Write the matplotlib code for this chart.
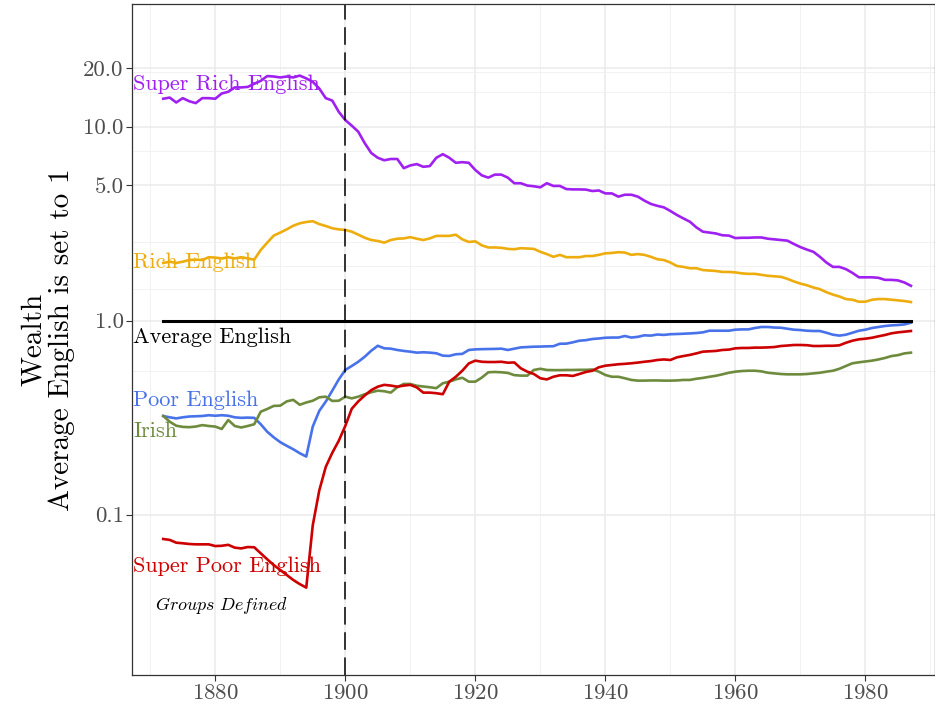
import numpy as np
import matplotlib
matplotlib.use("Agg")
import matplotlib.pyplot as plt
from matplotlib.ticker import FixedLocator, NullFormatter

plt.rcParams['font.family'] = 'cmr10'
plt.rcParams['mathtext.fontset'] = 'cm'
plt.rcParams['axes.formatter.use_mathtext'] = True

years = np.arange(1872, 1988)

super_rich = [13.9, 14.1, 13.3, 14.0, 13.5, 13.2, 14.0, 14.0,
              13.9, 14.8, 15.1, 15.9, 15.9, 16.0, 16.6, 17.2, 18.2, 18.1,
              17.9, 18.1, 17.9, 18.3, 17.7, 17.0, 15.7, 14.0, 13.6, 11.9,
              10.8, 10.1, 9.4, 8.2, 7.3, 6.9, 6.7, 6.8, 6.8, 6.1,
              6.3, 6.4, 6.2, 6.25, 6.9, 7.2, 6.9, 6.5, 6.55, 6.5,
              5.97, 5.6, 5.45, 5.65, 5.65, 5.45, 5.1, 5.1, 4.96, 4.92,
              4.86, 5.1, 4.94, 4.94, 4.76, 4.74, 4.74, 4.73, 4.65, 4.68,
              4.52, 4.52, 4.35, 4.45, 4.45, 4.35, 4.15, 3.99, 3.90, 3.83,
              3.67, 3.50, 3.36, 3.23, 3.02, 2.87, 2.84, 2.81, 2.75, 2.74,
              2.66, 2.67, 2.67, 2.68, 2.68, 2.64, 2.62, 2.60, 2.58, 2.48,
              2.39, 2.32, 2.26, 2.13, 1.99, 1.89, 1.89, 1.84, 1.76, 1.67,
              1.67, 1.67, 1.66, 1.62, 1.62, 1.61, 1.57, 1.51]

rich = [1.98, 2.01, 1.98, 2.01, 2.05, 2.06, 2.05, 2.12,
        2.11, 2.09, 2.12, 2.09, 2.12, 2.09, 2.06, 2.31, 2.52, 2.74,
        2.84, 2.95, 3.08, 3.17, 3.22, 3.25, 3.14, 3.07, 2.99, 2.95,
        2.93, 2.87, 2.77, 2.67, 2.60, 2.57, 2.52, 2.60, 2.64, 2.65,
        2.69, 2.64, 2.60, 2.65, 2.73, 2.73, 2.73, 2.77, 2.62, 2.54,
        2.56, 2.44, 2.38, 2.38, 2.37, 2.34, 2.33, 2.36, 2.35, 2.34,
        2.26, 2.20, 2.13, 2.18, 2.12, 2.12, 2.12, 2.15, 2.15, 2.18,
        2.22, 2.23, 2.25, 2.24, 2.18, 2.20, 2.18, 2.13, 2.07, 2.05,
        1.99, 1.91, 1.89, 1.86, 1.86, 1.82, 1.81, 1.80, 1.78, 1.78,
        1.77, 1.75, 1.74, 1.74, 1.72, 1.70, 1.69, 1.68, 1.64, 1.59,
        1.55, 1.52, 1.48, 1.45, 1.40, 1.36, 1.33, 1.29, 1.28, 1.25,
        1.25, 1.28, 1.29, 1.29, 1.28, 1.27, 1.26, 1.245]

poor = [0.322, 0.317, 0.313, 0.317, 0.320, 0.321, 0.322, 0.325,
        0.323, 0.325, 0.323, 0.317, 0.315, 0.316, 0.315, 0.292, 0.267, 0.250,
        0.236, 0.226, 0.217, 0.207, 0.199, 0.284, 0.342, 0.382, 0.435, 0.497,
        0.556, 0.583, 0.613, 0.651, 0.699, 0.741, 0.719, 0.716, 0.705, 0.697,
        0.691, 0.683, 0.686, 0.683, 0.678, 0.659, 0.657, 0.670, 0.673, 0.705,
        0.710, 0.712, 0.713, 0.714, 0.716, 0.705, 0.716, 0.727, 0.730, 0.733,
        0.734, 0.736, 0.737, 0.759, 0.760, 0.772, 0.787, 0.792, 0.803, 0.808,
        0.815, 0.817, 0.817, 0.832, 0.817, 0.824, 0.839, 0.836, 0.847, 0.843,
        0.850, 0.852, 0.855, 0.858, 0.862, 0.869, 0.886, 0.886, 0.886, 0.886,
        0.897, 0.900, 0.900, 0.915, 0.926, 0.926, 0.920, 0.918, 0.907, 0.897,
        0.893, 0.886, 0.883, 0.883, 0.865, 0.845, 0.836, 0.845, 0.865, 0.886,
        0.897, 0.915, 0.926, 0.937, 0.944, 0.948, 0.955, 0.974]

irish = [0.322, 0.301, 0.287, 0.283, 0.282, 0.284, 0.289, 0.286,
         0.284, 0.276, 0.307, 0.286, 0.281, 0.286, 0.292, 0.339, 0.350, 0.363,
         0.364, 0.383, 0.390, 0.368, 0.378, 0.386, 0.402, 0.405, 0.385, 0.386,
         0.405, 0.397, 0.405, 0.417, 0.427, 0.435, 0.432, 0.425, 0.453, 0.471,
         0.471, 0.461, 0.457, 0.453, 0.448, 0.475, 0.484, 0.497, 0.507, 0.484,
         0.484, 0.508, 0.541, 0.543, 0.541, 0.537, 0.523, 0.520, 0.520, 0.556,
         0.564, 0.556, 0.555, 0.555, 0.556, 0.556, 0.557, 0.557, 0.559, 0.545,
         0.524, 0.513, 0.513, 0.504, 0.494, 0.490, 0.490, 0.491, 0.491, 0.490,
         0.490, 0.491, 0.494, 0.494, 0.501, 0.506, 0.513, 0.519, 0.528, 0.538,
         0.545, 0.549, 0.551, 0.551, 0.547, 0.538, 0.534, 0.530, 0.528, 0.528,
         0.528, 0.530, 0.534, 0.538, 0.545, 0.551, 0.564, 0.583, 0.602, 0.609,
         0.615, 0.621, 0.630, 0.641, 0.656, 0.663, 0.677, 0.683]

super_poor = [0.0748, 0.0740, 0.0716, 0.0711, 0.0705, 0.0702, 0.0702, 0.0702,
              0.0688, 0.0690, 0.0698, 0.0675, 0.0669, 0.0680, 0.0678, 0.0631, 0.0588, 0.0549,
              0.0518, 0.0488, 0.0460, 0.0438, 0.0420, 0.0880, 0.1330, 0.176, 0.208, 0.240,
              0.286, 0.351, 0.383, 0.411, 0.438, 0.456, 0.466, 0.462, 0.456, 0.462,
              0.466, 0.452, 0.425, 0.425, 0.422, 0.417, 0.484, 0.513, 0.551, 0.601,
              0.621, 0.613, 0.611, 0.611, 0.613, 0.606, 0.608, 0.567, 0.545, 0.530,
              0.504, 0.497, 0.513, 0.522, 0.522, 0.518, 0.530, 0.543, 0.551, 0.574,
              0.585, 0.590, 0.595, 0.598, 0.602, 0.607, 0.613, 0.618, 0.626, 0.630,
              0.626, 0.646, 0.656, 0.665, 0.677, 0.691, 0.694, 0.697, 0.705, 0.708,
              0.719, 0.722, 0.722, 0.725, 0.725, 0.727, 0.730, 0.739, 0.743, 0.748,
              0.748, 0.746, 0.739, 0.739, 0.741, 0.741, 0.745, 0.768, 0.787, 0.800,
              0.806, 0.815, 0.829, 0.842, 0.859, 0.869, 0.876, 0.883]

avg_years = [1872, 1987]
avg_value = [1.0, 1.0]

# label text, colour, baseline y value
labels = [
    ("Super Rich English", "#A020F0", 15.5),
    ("Rich English", "#EEAD0E", 1.86),
    ("Average English", "black", 0.769),
    ("Poor English", "#4872EA", 0.364),
    ("Irish", "#6E8B3D", 0.252),
    ("Super Poor English", "#CD0000", 0.0507),
]

x_ticks = [1880, 1900, 1920, 1940, 1960, 1980]
x_minor = [1870, 1890, 1910, 1930, 1950, 1970, 1990]
y_ticks = [0.1, 1.0, 5.0, 10.0, 20.0]
y_ticklabels = ["0.1", "1.0", "5.0", "10.0", "20.0"]
y_minor = [0.55, 1.45, 1.9, 2.54, 7.5, 15.0, 19.2]

fig = plt.figure(figsize=(9.35, 7.11), dpi=100)
ax = fig.add_axes([132 / 935, 36 / 711, 803 / 935, 671 / 711])

ax.set_yscale("log")
ax.set_xlim(1867.2, 1990.7)
ax.set_ylim(0.01489, 42.8)

ax.xaxis.set_major_locator(FixedLocator(x_ticks))
ax.xaxis.set_minor_locator(FixedLocator(x_minor))
ax.yaxis.set_major_locator(FixedLocator(y_ticks))
ax.yaxis.set_minor_locator(FixedLocator(y_minor))
ax.set_yticklabels(y_ticklabels)
ax.yaxis.set_minor_formatter(NullFormatter())
ax.xaxis.set_minor_formatter(NullFormatter())

ax.grid(which="major", color="#EBEBEB", lw=1.1, zorder=0)
ax.grid(which="minor", color="#F0F0F0", lw=0.6, zorder=0)
ax.set_axisbelow(True)
ax.tick_params(which="major", length=4, width=0.8, color="#333333",
               labelsize=16.5, labelcolor="#4D4D4D", pad=2)
ax.tick_params(which="minor", length=0)
for sp in ax.spines.values():
    sp.set_color("#333333")
    sp.set_linewidth(0.9)

ax.plot(years, super_rich, color="#A020F0", lw=1.9)
ax.plot(years, rich, color="#EEAD0E", lw=1.9)
ax.plot(years, poor, color="#4872EA", lw=1.9)
ax.plot(years, irish, color="#6E8B3D", lw=1.9)
ax.plot(years, super_poor, color="#CD0000", lw=1.9)
ax.plot(avg_years, avg_value, color="black", lw=2.2)
ax.axvline(1900, color="black", lw=1.1, dashes=(11.5, 5))

for txt, col, yv in labels:
    ax.text(1867.35, yv, txt, color=col, fontsize=16, ha="left", va="baseline")

ax.text(1870.8, 0.0322, r"$\mathit{Groups\ Defined}$", fontsize=13,
        ha="left", va="baseline", color="black")

ax.set_ylabel("Wealth\nAverage English is set to 1", fontsize=21,
              linespacing=1.05, labelpad=6)

fig.savefig("out.png", dpi=100)
